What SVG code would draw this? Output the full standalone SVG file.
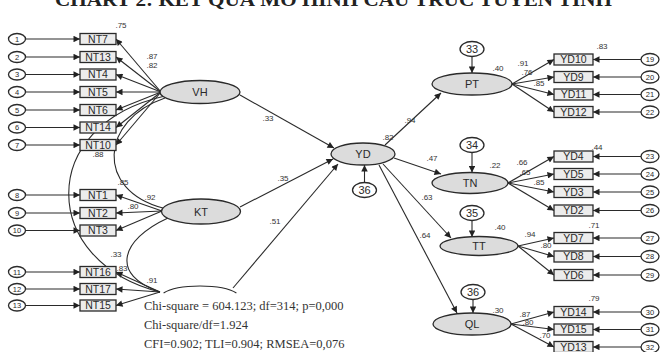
<svg xmlns="http://www.w3.org/2000/svg" width="661" height="352" viewBox="0 0 661 352">
<defs>
<marker id="ah" viewBox="0 0 10 10" refX="10" refY="5" markerWidth="9" markerHeight="6.5" markerUnits="userSpaceOnUse" orient="auto">
<path d="M0,0 L10,5 L0,10 z" fill="#222"/>
</marker>
<style>
.c{stroke:#2a2a2a;stroke-width:1.1;fill:none}
.a{stroke:#2a2a2a;stroke-width:1.1;fill:none;marker-end:url(#ah)}
.lat{fill:#dcdcdc;stroke:#2a2a2a;stroke-width:1.3}
.box{fill:#ececec;stroke:#2a2a2a;stroke-width:1.3}
.err{fill:#fff;stroke:#2a2a2a;stroke-width:1.3}
.bt{font-family:"Liberation Sans",Arial,sans-serif;font-size:10.5px;fill:#2a2a2a;text-anchor:middle}
.et{font-family:"Liberation Sans",Arial,sans-serif;font-size:7.5px;fill:#2a2a2a;text-anchor:middle}
.lt{font-family:"Liberation Sans",Arial,sans-serif;font-size:11px;fill:#2a2a2a;text-anchor:middle}
.zt{font-family:"Liberation Sans",Arial,sans-serif;font-size:11px;fill:#2a2a2a;text-anchor:middle}
.v{font-family:"Liberation Sans",Arial,sans-serif;font-size:8px;fill:#333;text-anchor:middle}
.fit{font-family:"Liberation Serif","Times New Roman",serif;font-size:12.5px;fill:#333}
</style>
</defs>
<rect width="661" height="352" fill="#fff"/>
<text x="55" y="6" font-family="Liberation Serif,serif" font-weight="bold" font-size="18" fill="#222" textLength="557" lengthAdjust="spacingAndGlyphs">CHART 2: KẾT QUẢ MÔ HÌNH CẤU TRÚC TUYẾN TÍNH</text>

<g id="connectors">
<line class="a" x1="25.5" y1="39" x2="80" y2="39"/>
<line class="a" x1="25.5" y1="57" x2="80" y2="57"/>
<line class="a" x1="25.5" y1="74.5" x2="80" y2="74.5"/>
<line class="a" x1="25.5" y1="92" x2="80" y2="92"/>
<line class="a" x1="25.5" y1="110" x2="80" y2="110"/>
<line class="a" x1="25.5" y1="127.5" x2="80" y2="127.5"/>
<line class="a" x1="25.5" y1="145" x2="80" y2="145"/>
<line class="a" x1="25.5" y1="195" x2="80" y2="195"/>
<line class="a" x1="25.5" y1="213" x2="80" y2="213"/>
<line class="a" x1="25.5" y1="230.5" x2="80" y2="230.5"/>
<line class="a" x1="25.5" y1="272" x2="80" y2="272"/>
<line class="a" x1="25.5" y1="289" x2="80" y2="289"/>
<line class="a" x1="25.5" y1="305.5" x2="80" y2="305.5"/>
<line class="a" x1="161" y1="92" x2="116" y2="39"/>
<line class="a" x1="161" y1="92" x2="116" y2="57"/>
<line class="a" x1="161" y1="92" x2="116" y2="74.5"/>
<line class="a" x1="161" y1="92" x2="116" y2="92"/>
<line class="a" x1="161" y1="92" x2="116" y2="110"/>
<line class="a" x1="161" y1="92" x2="116" y2="127.5"/>
<line class="a" x1="161" y1="92" x2="116" y2="145"/>
<line class="a" x1="162" y1="211" x2="116" y2="195"/>
<line class="a" x1="162" y1="211" x2="116" y2="213"/>
<line class="a" x1="162" y1="211" x2="116" y2="230.5"/>
<line class="a" x1="160" y1="292" x2="116" y2="272"/>
<line class="a" x1="160" y1="292" x2="116" y2="289"/>
<line class="a" x1="160" y1="292" x2="116" y2="305.5"/>
<path class="c" d="M165,98 C100,120 95,190 163,208"/>
<path class="c" d="M165,96 C35,125 40,262 160,292"/>
<path class="c" d="M168,218 C120,240 110,275 160,292"/>
<line class="a" x1="240" y1="95" x2="334" y2="148"/>
<line class="a" x1="240" y1="207" x2="333" y2="159"/>
<line class="a" x1="233" y1="288" x2="338" y2="164"/>
<line class="a" x1="385" y1="145" x2="441" y2="93"/>
<line class="a" x1="394" y1="158" x2="441" y2="174"/>
<line class="a" x1="383" y1="164" x2="451" y2="238"/>
<line class="a" x1="379" y1="165" x2="457" y2="313"/>
<line class="a" x1="472" y1="56.5" x2="472" y2="73"/>
<line class="a" x1="472" y1="152.5" x2="472" y2="172.5"/>
<line class="a" x1="472" y1="220.5" x2="472" y2="237"/>
<line class="a" x1="473" y1="299.5" x2="473" y2="313"/>
<line class="a" x1="364.5" y1="182.5" x2="364.5" y2="165"/>
<line class="a" x1="512" y1="84" x2="554" y2="59.5"/>
<line class="a" x1="512" y1="84" x2="554" y2="77"/>
<line class="a" x1="512" y1="84" x2="554" y2="94.5"/>
<line class="a" x1="512" y1="84" x2="554" y2="112"/>
<line class="a" x1="508" y1="183" x2="554" y2="156.5"/>
<line class="a" x1="508" y1="183" x2="554" y2="174"/>
<line class="a" x1="508" y1="183" x2="554" y2="192"/>
<line class="a" x1="508" y1="183" x2="554" y2="210.5"/>
<line class="a" x1="518" y1="246" x2="554" y2="238"/>
<line class="a" x1="518" y1="246" x2="554" y2="256.5"/>
<line class="a" x1="518" y1="246" x2="554" y2="275"/>
<line class="a" x1="511" y1="324" x2="554" y2="312"/>
<line class="a" x1="511" y1="324" x2="554" y2="329.5"/>
<line class="a" x1="511" y1="324" x2="554" y2="347"/>
<line class="a" x1="641" y1="59.5" x2="593" y2="59.5"/>
<line class="a" x1="641" y1="77" x2="593" y2="77"/>
<line class="a" x1="641" y1="94.5" x2="593" y2="94.5"/>
<line class="a" x1="641" y1="112" x2="593" y2="112"/>
<line class="a" x1="641" y1="156.5" x2="593" y2="156.5"/>
<line class="a" x1="641" y1="174" x2="593" y2="174"/>
<line class="a" x1="641" y1="192" x2="593" y2="192"/>
<line class="a" x1="641" y1="210.5" x2="593" y2="210.5"/>
<line class="a" x1="641" y1="238" x2="593" y2="238"/>
<line class="a" x1="641" y1="256.5" x2="593" y2="256.5"/>
<line class="a" x1="641" y1="275" x2="593" y2="275"/>
<line class="a" x1="641" y1="312" x2="593" y2="312"/>
<line class="a" x1="641" y1="329.5" x2="593" y2="329.5"/>
<line class="a" x1="641" y1="347" x2="593" y2="347"/>
</g>

<g id="error-terms-left">
<g id="e1"><ellipse class="err" cx="17" cy="39" rx="8.5" ry="5.5"/><text class="et" x="17" y="41.7">1</text></g>
<g id="e2"><ellipse class="err" cx="17" cy="57" rx="8.5" ry="5.5"/><text class="et" x="17" y="59.7">2</text></g>
<g id="e3"><ellipse class="err" cx="17" cy="74.5" rx="8.5" ry="5.5"/><text class="et" x="17" y="77.2">3</text></g>
<g id="e4"><ellipse class="err" cx="17" cy="92" rx="8.5" ry="5.5"/><text class="et" x="17" y="94.7">4</text></g>
<g id="e5"><ellipse class="err" cx="17" cy="110" rx="8.5" ry="5.5"/><text class="et" x="17" y="112.7">5</text></g>
<g id="e6"><ellipse class="err" cx="17" cy="127.5" rx="8.5" ry="5.5"/><text class="et" x="17" y="130.2">6</text></g>
<g id="e7"><ellipse class="err" cx="17" cy="145" rx="8.5" ry="5.5"/><text class="et" x="17" y="147.7">7</text></g>
<g id="e8"><ellipse class="err" cx="17" cy="195" rx="8.5" ry="5.5"/><text class="et" x="17" y="197.7">8</text></g>
<g id="e9"><ellipse class="err" cx="17" cy="213" rx="8.5" ry="5.5"/><text class="et" x="17" y="215.7">9</text></g>
<g id="e10"><ellipse class="err" cx="17" cy="230.5" rx="8.5" ry="5.5"/><text class="et" x="17" y="233.2">10</text></g>
<g id="e11"><ellipse class="err" cx="17" cy="272" rx="8.5" ry="5.5"/><text class="et" x="17" y="274.7">11</text></g>
<g id="e12"><ellipse class="err" cx="17" cy="289" rx="8.5" ry="5.5"/><text class="et" x="17" y="291.7">12</text></g>
<g id="e13"><ellipse class="err" cx="17" cy="305.5" rx="8.5" ry="5.5"/><text class="et" x="17" y="308.2">13</text></g>
</g>

<g id="indicators-left">
<g id="NT7"><rect class="box" x="80" y="33.5" width="36" height="11"/><text class="bt" x="98" y="42.8">NT7</text></g>
<g id="NT13"><rect class="box" x="80" y="51.5" width="36" height="11"/><text class="bt" x="98" y="60.8">NT13</text></g>
<g id="NT4"><rect class="box" x="80" y="69" width="36" height="11"/><text class="bt" x="98" y="78.3">NT4</text></g>
<g id="NT5"><rect class="box" x="80" y="86.5" width="36" height="11"/><text class="bt" x="98" y="95.8">NT5</text></g>
<g id="NT6"><rect class="box" x="80" y="104.5" width="36" height="11"/><text class="bt" x="98" y="113.8">NT6</text></g>
<g id="NT14"><rect class="box" x="80" y="122" width="36" height="11"/><text class="bt" x="98" y="131.3">NT14</text></g>
<g id="NT10"><rect class="box" x="80" y="139.5" width="36" height="11"/><text class="bt" x="98" y="148.8">NT10</text></g>
<g id="NT1"><rect class="box" x="80" y="189.5" width="36" height="11"/><text class="bt" x="98" y="198.8">NT1</text></g>
<g id="NT2"><rect class="box" x="80" y="207.5" width="36" height="11"/><text class="bt" x="98" y="216.8">NT2</text></g>
<g id="NT3"><rect class="box" x="80" y="225" width="36" height="11"/><text class="bt" x="98" y="234.3">NT3</text></g>
<g id="NT16"><rect class="box" x="80" y="266.5" width="36" height="11"/><text class="bt" x="98" y="275.8">NT16</text></g>
<g id="NT17"><rect class="box" x="80" y="283.5" width="36" height="11"/><text class="bt" x="98" y="292.8">NT17</text></g>
<g id="NT15"><rect class="box" x="80" y="300" width="36" height="11"/><text class="bt" x="98" y="309.3">NT15</text></g>
</g>

<g id="latents">
<g id="VH"><ellipse class="lat" cx="200" cy="92" rx="40" ry="11.5"/><text class="lt" x="200" y="96">VH</text></g>
<g id="KT"><ellipse class="lat" cx="201" cy="211.5" rx="39.5" ry="12.5"/><text class="lt" x="201" y="215.5">KT</text></g>
<g id="latent3"><path class="c" d="M163.6,293 A40,12 0 0 1 236.4,293"/></g>
<g id="YD"><ellipse class="lat" cx="363" cy="154" rx="32" ry="11"/><text class="lt" x="363" y="158">YD</text></g>
<g id="PT"><ellipse class="lat" cx="472" cy="84" rx="40" ry="11"/><text class="lt" x="472" y="88">PT</text></g>
<g id="TN"><ellipse class="lat" cx="470" cy="183" rx="38" ry="10.5"/><text class="lt" x="470" y="187">TN</text></g>
<g id="TT"><ellipse class="lat" cx="479" cy="246" rx="39" ry="9.5"/><text class="lt" x="479" y="250">TT</text></g>
<g id="QL"><ellipse class="lat" cx="472" cy="324" rx="39" ry="11"/><text class="lt" x="472" y="328">QL</text></g>
</g>

<g id="residuals-latent">
<g id="e33"><ellipse class="err" cx="472" cy="49" rx="12" ry="7.5"/><text class="zt" x="472" y="53">33</text></g>
<g id="e34"><ellipse class="err" cx="472" cy="145" rx="12" ry="7.5"/><text class="zt" x="472" y="149">34</text></g>
<g id="e35"><ellipse class="err" cx="472" cy="213" rx="12" ry="7.5"/><text class="zt" x="472" y="217">35</text></g>
<g id="e36"><ellipse class="err" cx="473" cy="292" rx="12" ry="7.5"/><text class="zt" x="473" y="296">36</text></g>
<g id="e38"><ellipse class="err" cx="364.5" cy="190" rx="12" ry="7.5"/><text class="zt" x="364.5" y="194">36</text></g>
</g>

<g id="indicators-right">
<g id="YD10"><rect class="box" x="554" y="54" width="39" height="11"/><text class="bt" x="573.5" y="63.3">YD10</text></g>
<g id="YD9"><rect class="box" x="554" y="71.5" width="39" height="11"/><text class="bt" x="573.5" y="80.8">YD9</text></g>
<g id="YD11"><rect class="box" x="554" y="89" width="39" height="11"/><text class="bt" x="573.5" y="98.3">YD11</text></g>
<g id="YD12"><rect class="box" x="554" y="106.5" width="39" height="11"/><text class="bt" x="573.5" y="115.8">YD12</text></g>
<g id="YD4"><rect class="box" x="554" y="151" width="39" height="11"/><text class="bt" x="573.5" y="160.3">YD4</text></g>
<g id="YD5"><rect class="box" x="554" y="168.5" width="39" height="11"/><text class="bt" x="573.5" y="177.8">YD5</text></g>
<g id="YD3"><rect class="box" x="554" y="186.5" width="39" height="11"/><text class="bt" x="573.5" y="195.8">YD3</text></g>
<g id="YD2"><rect class="box" x="554" y="205" width="39" height="11"/><text class="bt" x="573.5" y="214.3">YD2</text></g>
<g id="YD7"><rect class="box" x="554" y="232.5" width="39" height="11"/><text class="bt" x="573.5" y="241.8">YD7</text></g>
<g id="YD8"><rect class="box" x="554" y="251" width="39" height="11"/><text class="bt" x="573.5" y="260.3">YD8</text></g>
<g id="YD6"><rect class="box" x="554" y="269.5" width="39" height="11"/><text class="bt" x="573.5" y="278.8">YD6</text></g>
<g id="YD14"><rect class="box" x="554" y="306.5" width="39" height="11"/><text class="bt" x="573.5" y="315.8">YD14</text></g>
<g id="YD15"><rect class="box" x="554" y="324" width="39" height="11"/><text class="bt" x="573.5" y="333.3">YD15</text></g>
<g id="YD13"><rect class="box" x="554" y="341.5" width="39" height="11"/><text class="bt" x="573.5" y="350.8">YD13</text></g>
</g>

<g id="error-terms-right">
<g id="e19"><ellipse class="err" cx="650" cy="59.5" rx="9" ry="6"/><text class="et" x="650" y="62.2">19</text></g>
<g id="e20"><ellipse class="err" cx="650" cy="77" rx="9" ry="6"/><text class="et" x="650" y="79.7">20</text></g>
<g id="e21"><ellipse class="err" cx="650" cy="94.5" rx="9" ry="6"/><text class="et" x="650" y="97.2">21</text></g>
<g id="e22"><ellipse class="err" cx="650" cy="112" rx="9" ry="6"/><text class="et" x="650" y="114.7">22</text></g>
<g id="e23"><ellipse class="err" cx="650" cy="156.5" rx="9" ry="6"/><text class="et" x="650" y="159.2">23</text></g>
<g id="e24"><ellipse class="err" cx="650" cy="174" rx="9" ry="6"/><text class="et" x="650" y="176.7">24</text></g>
<g id="e25"><ellipse class="err" cx="650" cy="192" rx="9" ry="6"/><text class="et" x="650" y="194.7">25</text></g>
<g id="e26"><ellipse class="err" cx="650" cy="210.5" rx="9" ry="6"/><text class="et" x="650" y="213.2">26</text></g>
<g id="e27"><ellipse class="err" cx="650" cy="238" rx="9" ry="6"/><text class="et" x="650" y="240.7">27</text></g>
<g id="e28"><ellipse class="err" cx="650" cy="256.5" rx="9" ry="6"/><text class="et" x="650" y="259.2">28</text></g>
<g id="e29"><ellipse class="err" cx="650" cy="275" rx="9" ry="6"/><text class="et" x="650" y="277.7">29</text></g>
<g id="e30"><ellipse class="err" cx="650" cy="312" rx="9" ry="6"/><text class="et" x="650" y="314.7">30</text></g>
<g id="e31"><ellipse class="err" cx="650" cy="329.5" rx="9" ry="6"/><text class="et" x="650" y="332.2">31</text></g>
<g id="e32"><ellipse class="err" cx="650" cy="347" rx="9" ry="6"/><text class="et" x="650" y="349.7">32</text></g>
</g>

<g id="estimates">
<text class="v" x="121" y="28">.75</text>
<text class="v" x="152" y="59">.87</text>
<text class="v" x="152" y="68">.82</text>
<text class="v" x="98" y="157">.88</text>
<text class="v" x="123" y="185">.85</text>
<text class="v" x="150" y="200">.92</text>
<text class="v" x="133" y="209">.80</text>
<text class="v" x="116" y="257">.33</text>
<text class="v" x="122" y="271">.83</text>
<text class="v" x="152" y="283">.91</text>
<text class="v" x="268" y="121">.33</text>
<text class="v" x="283" y="181">.35</text>
<text class="v" x="275" y="224">.51</text>
<text class="v" x="388" y="140">.82</text>
<text class="v" x="410" y="123">.94</text>
<text class="v" x="432" y="161">.47</text>
<text class="v" x="427" y="200">.63</text>
<text class="v" x="425" y="238">.64</text>
<text class="v" x="498" y="71">.40</text>
<text class="v" x="523" y="66">.91</text>
<text class="v" x="527" y="75">.76</text>
<text class="v" x="539" y="86">.85</text>
<text class="v" x="602" y="49">.83</text>
<text class="v" x="495" y="168">.22</text>
<text class="v" x="522" y="165">.66</text>
<text class="v" x="525" y="175">.65</text>
<text class="v" x="539" y="185">.85</text>
<text class="v" x="597" y="150">.44</text>
<text class="v" x="500" y="230">.40</text>
<text class="v" x="530" y="237">.94</text>
<text class="v" x="546" y="248">.80</text>
<text class="v" x="594" y="228">.71</text>
<text class="v" x="498" y="313">.30</text>
<text class="v" x="525" y="317">.87</text>
<text class="v" x="528" y="325">.80</text>
<text class="v" x="545" y="338">.70</text>
<text class="v" x="594" y="301">.79</text>
</g>

<g id="fit-statistics">
<text class="fit" x="144" y="310">Chi-square = 604.123; df=314; p=0,000</text>
<text class="fit" x="144" y="329">Chi-square/df=1.924</text>
<text class="fit" x="144" y="348">CFI=0.902; TLI=0.904; RMSEA=0,076</text>
</g>
</svg>
